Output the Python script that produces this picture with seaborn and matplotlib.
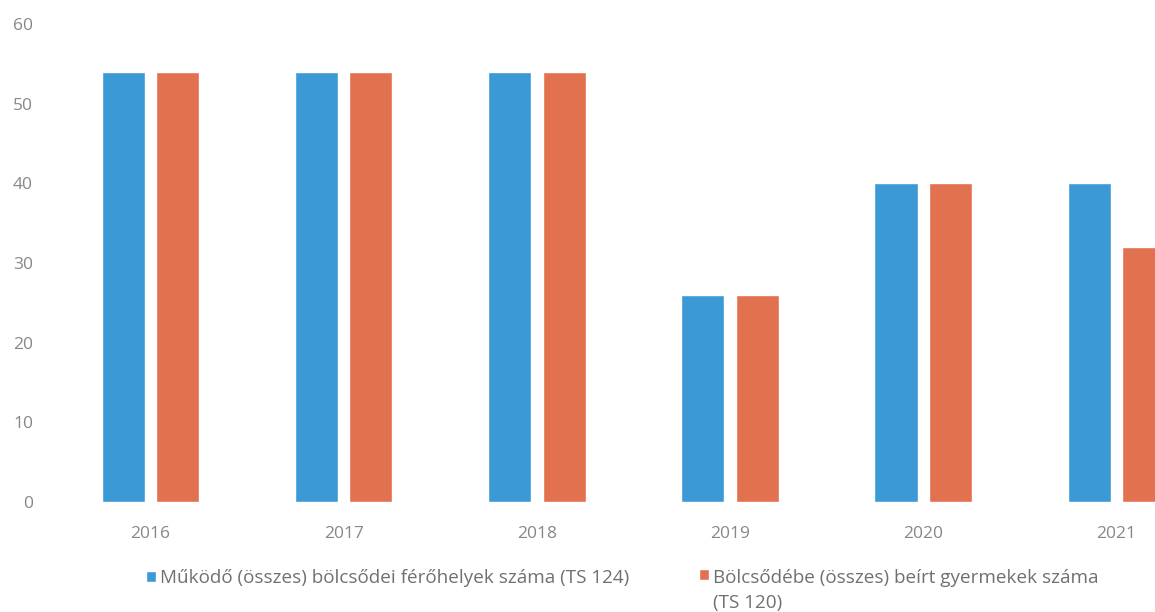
import pandas as pd
import matplotlib.pyplot as plt
import seaborn as sns

# data
years = ["2016", "2017", "2018", "2019", "2020", "2021"]
ferohelyek = [54, 54, 54, 26, 40, 40]   # TS 124
beirt = [54, 54, 54, 26, 40, 32]        # TS 120
series_names = ["Működő (összes) bölcsődei férőhelyek száma (TS 124)",
                "Bölcsődébe (összes) beírt gyermekek száma\n(TS 120)"]
colors = ["#3B9AD6", "#E2714F"]
yticks = [0, 10, 20, 30, 40, 50, 60]


def make_plot():
    df = pd.DataFrame({
        "Év": years * 2,
        "Érték": ferohelyek + beirt,
        "Sorozat": [series_names[0]] * len(years) + [series_names[1]] * len(years),
    })

    sns.set_theme(style="white")
    plt.rcParams["font.family"] = ["Open Sans", "DejaVu Sans"]

    fig = plt.figure(figsize=(11.55, 6.12), dpi=100)
    # the original scan is cut off on the right, so the axes run past the edge
    ax = fig.add_axes([53.85 / 1155, 110 / 612, 1159.2 / 1155, 478 / 612])

    sns.barplot(data=df, x="Év", y="Érték", hue="Sorozat", palette=colors,
                width=0.564, gap=0.21, saturation=1, ax=ax, legend=False)

    ax.set_ylim(0, 60)
    ax.set_xlim(-0.5, len(years) - 0.5)
    ax.set_yticks(yticks)
    ax.set_xlabel("")
    ax.set_ylabel("")
    sns.despine(ax=ax, left=True, bottom=True)
    ax.tick_params(axis="y", length=0, pad=15, labelsize=12.5, labelcolor="#878787")
    ax.tick_params(axis="x", length=0, pad=17, labelsize=12.5, labelcolor="#878787")

    # legend: one box per series so each sits where the scan has it
    handles = ax.patches
    h_blue = [p for p in handles if p.get_facecolor()[2] > 0.6][0]
    h_orange = [p for p in handles if p.get_facecolor()[0] > 0.8][0]

    leg_kw = dict(frameon=False, fontsize=13.6, labelcolor="#707070",
                  handlelength=0.55, handleheight=0.55, handletextpad=0.2,
                  borderpad=0, borderaxespad=0, loc="upper left",
                  bbox_transform=fig.transFigure)
    leg1 = ax.legend([h_blue], [series_names[0]],
                     bbox_to_anchor=(146 / 1155, 1 - 569 / 612), **leg_kw)
    ax.add_artist(leg1)
    leg2 = ax.legend([h_orange], [series_names[1]],
                     bbox_to_anchor=(699 / 1155, 1 - 569 / 612), **leg_kw)
    leg2.get_texts()[0].set_linespacing(1.5)
    # keep the square next to the first line of the wrapped label
    for col in leg2._legend_handle_box.get_children():
        for item in col.get_children():
            item.align = "top"

    fig.savefig("out.png", dpi=100)


if __name__ == "__main__":
    make_plot()
